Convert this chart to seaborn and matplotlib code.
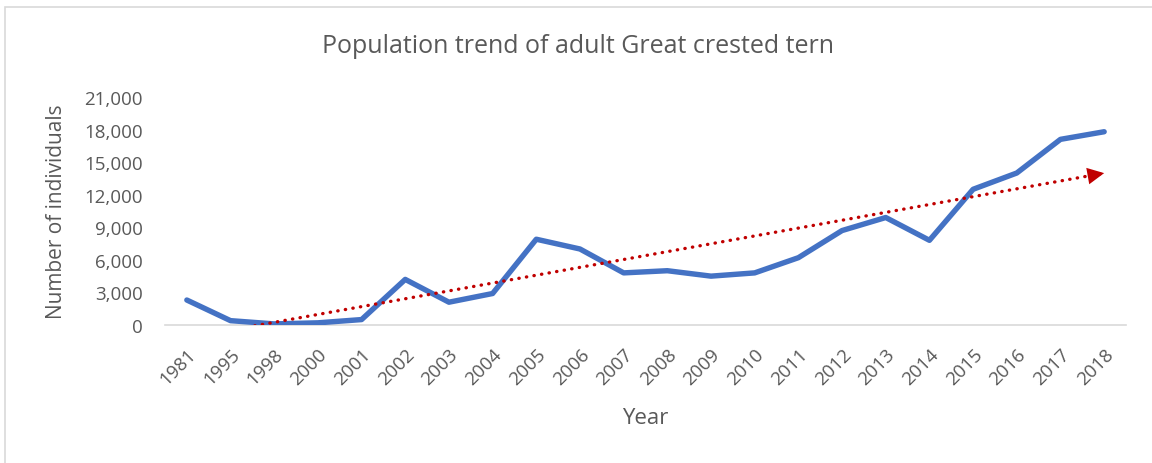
import numpy as np
import pandas as pd
import matplotlib
matplotlib.use("Agg")
import matplotlib.pyplot as plt
import seaborn as sns
from matplotlib.patches import Rectangle

years = ["1981", "1995", "1998", "2000", "2001", "2002", "2003", "2004", "2005", "2006", "2007",
         "2008", "2009", "2010", "2011", "2012", "2013", "2014", "2015", "2016", "2017", "2018"]
counts = [2300, 400, 100, 200, 500, 4200, 2100, 2900, 7900, 7000, 4800,
          5000, 4500, 4800, 6200, 8700, 9900, 7800, 12500, 14000, 17100, 17800]
yticks = [0, 3000, 6000, 9000, 12000, 15000, 18000, 21000]

sns.set_theme(style="white")
plt.rcParams['font.family'] = ['Open Sans', 'DejaVu Sans']

df = pd.DataFrame({"Year": years, "Count": counts})
idx = np.arange(len(years))
slope, intercept = np.polyfit(idx + 1, np.array(counts, dtype=float), 1)
trend = pd.DataFrame({"pos": idx, "Trend": intercept + slope * (idx + 1)})
df["pos"] = idx

fig = plt.figure(figsize=(11.52, 4.64), dpi=100)
ax = fig.add_axes([165/1152, 1-326/464, (1126-165)/1152, (326-98)/464])

grey = "#595959"
sns.lineplot(data=df, x="pos", y="Count", ax=ax, color="#4472C4", linewidth=3.9,
             sort=False, solid_capstyle="round", solid_joinstyle="round", zorder=3)
sns.lineplot(data=trend, x="pos", y="Trend", ax=ax, color="#C00000", linewidth=2.4,
             linestyle=(0, (0.1, 2.2)), dash_capstyle="round", zorder=4)
ax.annotate("", xy=(trend["pos"].iloc[-1], trend["Trend"].iloc[-1]),
            xytext=(trend["pos"].iloc[-2] + 0.55, intercept + slope * (len(years) - 0.45)),
            arrowprops=dict(arrowstyle="-|>,head_length=1.0,head_width=0.5",
                            color="#C00000", lw=0, shrinkA=0, shrinkB=0), zorder=5)

ax.set_xlim(-0.5, len(years) - 0.5)
ax.set_ylim(0, 21000)
ax.set_yticks(yticks)
ax.set_yticklabels([f"{v:,}" for v in yticks], fontsize=13.5, color=grey)
ax.set_xticks(idx)
ax.set_xticklabels(years, rotation=45, ha="right", rotation_mode="anchor",
                   fontsize=13.5, color=grey)
ax.tick_params(axis="x", length=0, pad=14)
ax.tick_params(axis="y", length=0, pad=16)

for s in ["top", "right", "left"]:
    ax.spines[s].set_visible(False)
ax.spines["bottom"].set_color("#D9D9D9")
ax.spines["bottom"].set_linewidth(1.2)
ax.grid(False)

ax.set_xlabel("Year", fontsize=16, color=grey, labelpad=14)
ax.set_ylabel("Number of individuals", fontsize=15, color=grey, labelpad=12)
fig.text(578/1152, 1-47/464, "Population trend of adult Great crested tern",
         ha="center", va="center", fontsize=18, color=grey)

fig.patches.append(Rectangle((5/1152, -0.1), 1.2, 1 - 8/464 + 0.1, transform=fig.transFigure,
                             fill=False, edgecolor="#D9D9D9", linewidth=1.2))

fig.savefig("out.png", dpi=100)
